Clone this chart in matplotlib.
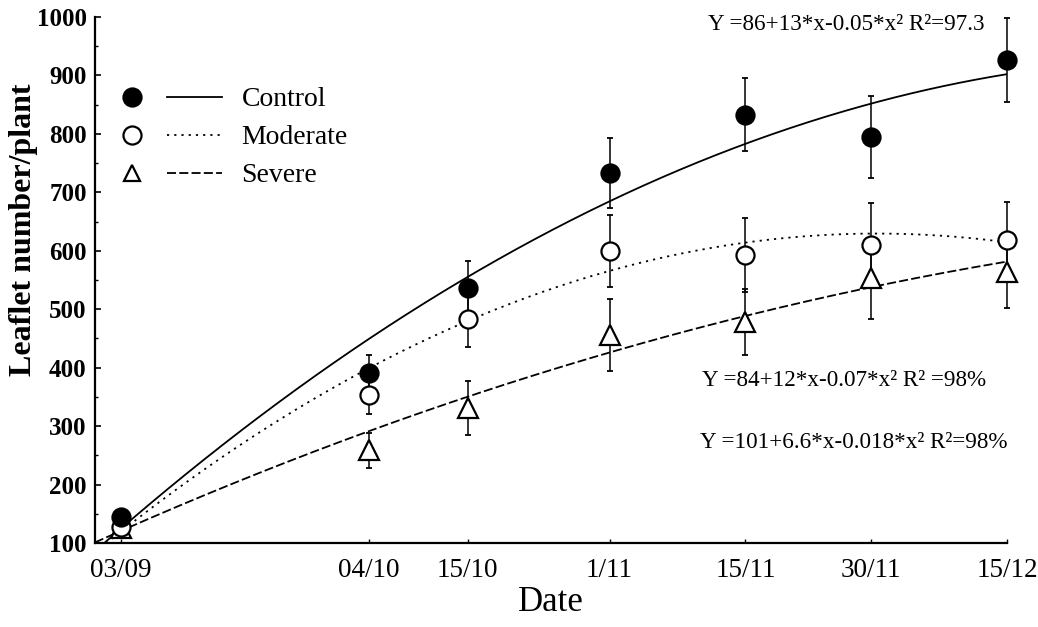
import matplotlib
matplotlib.use("Agg")
import matplotlib.pyplot as plt
import numpy as np
from matplotlib.lines import Line2D
from matplotlib.legend_handler import HandlerBase

plt.rcParams['font.family'] = ['Liberation Serif', 'DejaVu Serif']

# ---- data ----
dates = ["03/09", "04/10", "15/10", "1/11", "15/11", "30/11", "15/12"]
x_pos = [3, 31.8, 43.3, 59.8, 75.6, 90.2, 106]

control = [144, 391, 537, 733, 833, 795, 927]
control_err = [6, 30, 45, 60, 62, 70, 72]
moderate = [128, 353, 484, 600, 593, 610, 619]
moderate_err = [6, 32, 48, 62, 63, 72, 65]
severe = [125, 259, 331, 456, 478, 554, 564]
severe_err = [6, 30, 47, 62, 57, 70, 62]

# fitted quadratic curves (intercept, linear, quadratic) as drawn
control_fit = [86, 13, -0.05]
moderate_fit = [84, 12, -0.066]
severe_fit = [101, 6.6, -0.0195]

eq_texts = ["Y =86+13*x-0.05*x\u00b2 R\u00b2=97.3",
            "Y =84+12*x-0.07*x\u00b2 R\u00b2 =98%",
            "Y =101+6.6*x-0.018*x\u00b2 R\u00b2=98%"]
labels = ["Control", "Moderate", "Severe"]

# ---- figure ----
fig = plt.figure(figsize=(10.38, 6.27), dpi=100)
L, R, B, T = 95, 1007, 543, 17
ax = fig.add_axes([L / 1038, 1 - B / 627, (R - L) / 1038, (B - T) / 627])

xs = np.linspace(0, 106, 400)
series = [
    (control, control_err, control_fit, dict(marker='o', mfc='black', mec='black'), '-'),
    (moderate, moderate_err, moderate_fit, dict(marker='o', mfc='white', mec='black'), (0, (1.2, 2.8))),
    (severe, severe_err, severe_fit, dict(marker='^', mfc='white', mec='black'), (0, (5, 1.8))),
]

handles = []
for i, (vals, err, fit, mk, ls) in reversed(list(enumerate(series))):
    ys = np.polyval(fit[::-1], xs)
    ax.plot(xs, ys, color='black', lw=1.3, linestyle=ls, zorder=2)
    ax.errorbar(x_pos, vals, yerr=err, fmt='none', ecolor='black', elinewidth=1.1,
                capsize=2.5, capthick=1.3, zorder=3, clip_on=False)
    ax.plot(x_pos, vals, linestyle='none', markersize=13 if mk['marker'] == 'o' else 14,
            markeredgewidth=1.6, zorder=4 + (2 - i), clip_on=False, **mk)

for (vals, err, fit, mk, ls), lab in zip(series, labels):
    m = Line2D([], [], linestyle='none', markersize=13 if mk['marker'] == 'o' else 11,
               markeredgewidth=1.6, **mk)
    ln = Line2D([], [], color='black', lw=1.3, linestyle=ls)
    handles.append((m, ln))


class MarkerThenLine(HandlerBase):
    def create_artists(self, legend, orig_handle, xdescent, ydescent, width, height,
                       fontsize, trans):
        m, ln = orig_handle
        x0 = -xdescent
        yc = height / 2 - ydescent
        a = Line2D([x0 + 0.1 * width], [yc])
        a.update_from(m)
        a.set_transform(trans)
        b = Line2D([x0 + 0.45 * width, x0 + width], [yc, yc])
        b.update_from(ln)
        b.set_transform(trans)
        return [a, b]


leg = ax.legend(handles, labels, handler_map={tuple: MarkerThenLine()},
                loc='upper left', bbox_to_anchor=(122 / 1038, 1 - 87 / 627),
                bbox_transform=fig.transFigure, frameon=False, fontsize=20,
                handlelength=3.6, handletextpad=0.7, labelspacing=0.45,
                borderpad=0, borderaxespad=0)

ax.set_xlim(0, 105.5)
ax.set_ylim(100, 1000)
ax.set_xticks(x_pos)
ax.set_xticklabels(dates, fontsize=19.5)
ax.set_yticks(np.arange(100, 1001, 100))
ax.set_yticks(np.arange(150, 1000, 100), minor=True)
for lab in ax.get_yticklabels():
    lab.set_fontweight('bold')
    lab.set_fontsize(18)
ax.tick_params(axis='y', which='major', direction='in', length=4, width=1.2, pad=6)
ax.tick_params(axis='y', which='minor', direction='in', length=2.5, width=1.0)
ax.tick_params(axis='x', which='major', direction='in', length=3, width=1.0, pad=11)

for s in ['top', 'right']:
    ax.spines[s].set_visible(False)
for s in ['left', 'bottom']:
    ax.spines[s].set_linewidth(1.6)

ax.set_xlabel("Date", fontsize=25, labelpad=2)
fig.text(24 / 1038, 1 - 230 / 627, "Leaflet number/plant", rotation=90,
         fontsize=23, fontweight='bold', ha='center', va='center')

ax.text(708 / 1038, 1 - 25 / 627, eq_texts[0], transform=fig.transFigure,
        fontsize=16.7, ha='left', va='center')
ax.text(702 / 1038, 1 - 380 / 627, eq_texts[1], transform=fig.transFigure,
        fontsize=16.7, ha='left', va='center')
ax.text(700 / 1038, 1 - 443 / 627, eq_texts[2], transform=fig.transFigure,
        fontsize=16.7, ha='left', va='center')

fig.savefig("out.png", dpi=100)
